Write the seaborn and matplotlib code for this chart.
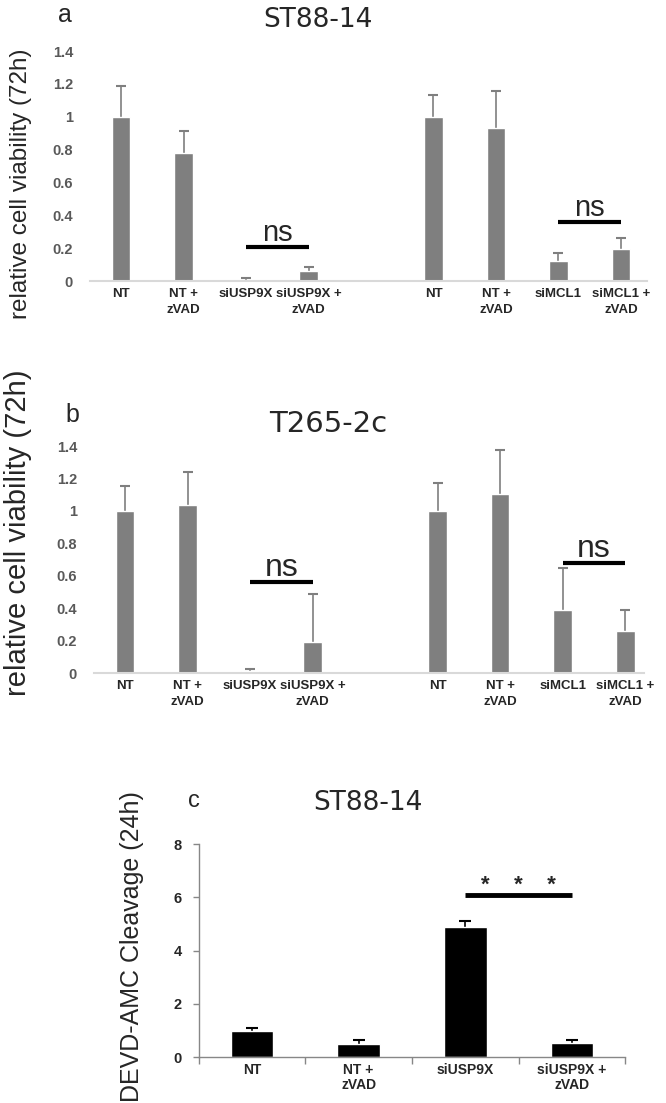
import numpy as np
import pandas as pd
import matplotlib
matplotlib.use("Agg")
import matplotlib.pyplot as plt
import seaborn as sns

# conditions for panels a and b (two knockdown groups, blank slot between them)
cond_keys = ["NT_1", "NTz_1", "siUSP9X", "siUSP9Xz", "NT_2", "NTz_2", "siMCL1", "siMCL1z"]
cond_labels = ["NT", "NT +\nzVAD", "siUSP9X", "siUSP9X +\nzVAD",
               "NT", "NT +\nzVAD", "siMCL1", "siMCL1 +\nzVAD"]
slot_order = cond_keys[:4] + ["gap"] + cond_keys[4:]

# a: ST88-14, relative viability at 72h
via_a = [1.0, 0.78, 0.005, 0.063, 1.0, 0.93, 0.12, 0.195]
err_a = [0.185, 0.134, 0.011, 0.024, 0.134, 0.225, 0.05, 0.07]
ns_a = [("siUSP9X", "siUSP9Xz", 0.207), ("siMCL1", "siMCL1z", 0.36)]

# b: T265-2c, relative viability at 72h
via_b = [1.0, 1.035, 0.01, 0.19, 1.0, 1.105, 0.388, 0.257]
err_b = [0.154, 0.207, 0.015, 0.30, 0.175, 0.269, 0.259, 0.131]
ns_b = [("siUSP9X", "siUSP9Xz", 0.563), ("siMCL1", "siMCL1z", 0.68)]

via_ticks = [0, 0.2, 0.4, 0.6, 0.8, 1, 1.2, 1.4]
via_ticklabels = ["0", "0.2", "0.4", "0.6", "0.8", "1", "1.2", "1.4"]

# c: ST88-14, DEVD-AMC cleavage at 24h
c_labels = ["NT", "NT +\nzVAD", "siUSP9X", "siUSP9X +\nzVAD"]
devd = [0.98, 0.50, 4.89, 0.53]
devd_err = [0.12, 0.13, 0.20, 0.12]
sig_c = ("siUSP9X", "siUSP9X +\nzVAD", 6.09)
devd_ticks = [0, 2, 4, 6, 8]

GRAY = "#7f7f7f"
TICKGRAY = "#595959"

sns.set_style("white")
plt.rcParams["font.family"] = ["Liberation Sans", "DejaVu Sans"]


def viability_panel(ax, vals, errs, ns_marks, ns_size):
    df = pd.DataFrame({"cond": cond_keys, "val": vals})
    sns.barplot(data=df, x="cond", y="val", order=slot_order, color=GRAY,
                saturation=1, width=0.3, errorbar=None, ax=ax, zorder=2)
    xs = [slot_order.index(k) for k in cond_keys]
    # error bars sit behind the bars so only the upper half shows
    ax.errorbar(xs, vals, yerr=errs, fmt="none", ecolor=GRAY,
                elinewidth=1.2, capsize=3.5, capthick=1.5, zorder=1)
    for k1, k2, y in ns_marks:
        x1, x2 = slot_order.index(k1), slot_order.index(k2)
        ax.plot([x1, x2], [y, y], color="black", lw=3, solid_capstyle="butt")
        ax.annotate("ns", xy=((x1 + x2) / 2, y), xytext=(0, 4),
                    textcoords="offset points", ha="center", va="baseline",
                    fontsize=ns_size)
    ax.set_ylim(0, 1.4)
    ax.set_yticks(via_ticks)
    ax.set_yticklabels(via_ticklabels, fontsize=10.5, fontweight="bold", color=TICKGRAY)
    ax.set_xticks(xs)
    ax.set_xticklabels(cond_labels, fontsize=9.5, fontweight="bold",
                       linespacing=1.5)
    ax.tick_params(axis="y", length=0, pad=12)
    ax.tick_params(axis="x", length=0, pad=5)
    for s in ["top", "right", "left"]:
        ax.spines[s].set_visible(False)
    ax.spines["bottom"].set_color("#d9d9d9")
    ax.spines["bottom"].set_linewidth(1.5)
    ax.set_xlabel("")
    ax.set_ylabel("")


fig = plt.figure(figsize=(6.66, 11.03), dpi=100)

# panel a
ax_a = fig.add_axes([0.1348, 0.7452, 0.837, 0.2085])
viability_panel(ax_a, via_a, err_a, ns_a, 21)
ax_a.set_xlim(-0.5, 8.42)
fig.text(0.0976, 0.980, "a", fontsize=18, ha="center", va="baseline")
fig.text(0.4775, 0.9755, "ST88-14", fontsize=19, ha="center", va="baseline",
         family="DejaVu Sans")
fig.text(0.031, 0.8336, "relative cell viability (72h)", rotation=90,
         fontsize=17.5, ha="center", va="center")

# panel b
ax_b = fig.add_axes([0.1408, 0.3898, 0.826, 0.2058])
viability_panel(ax_b, via_b, err_b, ns_b, 23)
ax_b.set_xlim(-0.5, 8.3)
fig.text(0.108, 0.6174, "b", fontsize=18, ha="center", va="baseline")
fig.text(0.4925, 0.6083, "T265-2c", fontsize=21, ha="center", va="baseline",
         family="DejaVu Sans")
fig.text(0.027, 0.5172, "relative cell viability (72h)", rotation=90,
         fontsize=21, ha="center", va="center")

# panel c
ax_c = fig.add_axes([0.2983, 0.0417, 0.6406, 0.1931])
df_c = pd.DataFrame({"cond": c_labels, "val": devd})
sns.barplot(data=df_c, x="cond", y="val", order=c_labels, color="black",
            saturation=1, width=0.4, errorbar=None, ax=ax_c, zorder=2)
ax_c.errorbar(range(len(c_labels)), devd, yerr=devd_err,
              fmt="none", ecolor="black", elinewidth=1.2, capsize=4,
              capthick=1.5, zorder=1)
x1, x2 = c_labels.index(sig_c[0]), c_labels.index(sig_c[1])
ax_c.plot([x1, x2], [sig_c[2], sig_c[2]], color="black", lw=3.5,
          solid_capstyle="butt")
ax_c.annotate("*    *    *", xy=((x1 + x2) / 2, sig_c[2]), xytext=(0, 3),
              textcoords="offset points", ha="center", va="baseline",
              fontsize=16, fontweight="bold")
ax_c.set_xlim(-0.5, 3.5)
ax_c.set_ylim(0, 8)
ax_c.set_yticks(devd_ticks)
ax_c.set_yticklabels([str(t) for t in devd_ticks], fontsize=10.5, fontweight="bold")
ax_c.set_xticks(range(len(c_labels)))
ax_c.set_xticklabels(c_labels, fontsize=10, fontweight="bold", linespacing=1.1)
ax_c.set_xticks(np.arange(-0.5, len(c_labels), 1), minor=True)
ax_c.tick_params(axis="x", which="major", length=0, pad=4)
ax_c.tick_params(axis="x", which="minor", length=5, color="#878787", width=1,
                 direction="out", bottom=True)
ax_c.tick_params(axis="y", length=4, color="#878787", width=1, direction="out",
                 left=True, pad=8)
for s in ["top", "right"]:
    ax_c.spines[s].set_visible(False)
for s in ["left", "bottom"]:
    ax_c.spines[s].set_color("#878787")
    ax_c.spines[s].set_linewidth(1)
ax_c.set_xlabel("")
ax_c.set_ylabel("")
fig.text(0.2913, 0.2684, "c", fontsize=17, ha="center", va="baseline")
fig.text(0.5526, 0.2656, "ST88-14", fontsize=19, ha="center", va="baseline",
         family="DejaVu Sans")
fig.text(0.198, 0.1414, "DEVD-AMC Cleavage (24h)", rotation=90,
         fontsize=18, ha="center", va="center")

fig.savefig("out.png", dpi=100)
